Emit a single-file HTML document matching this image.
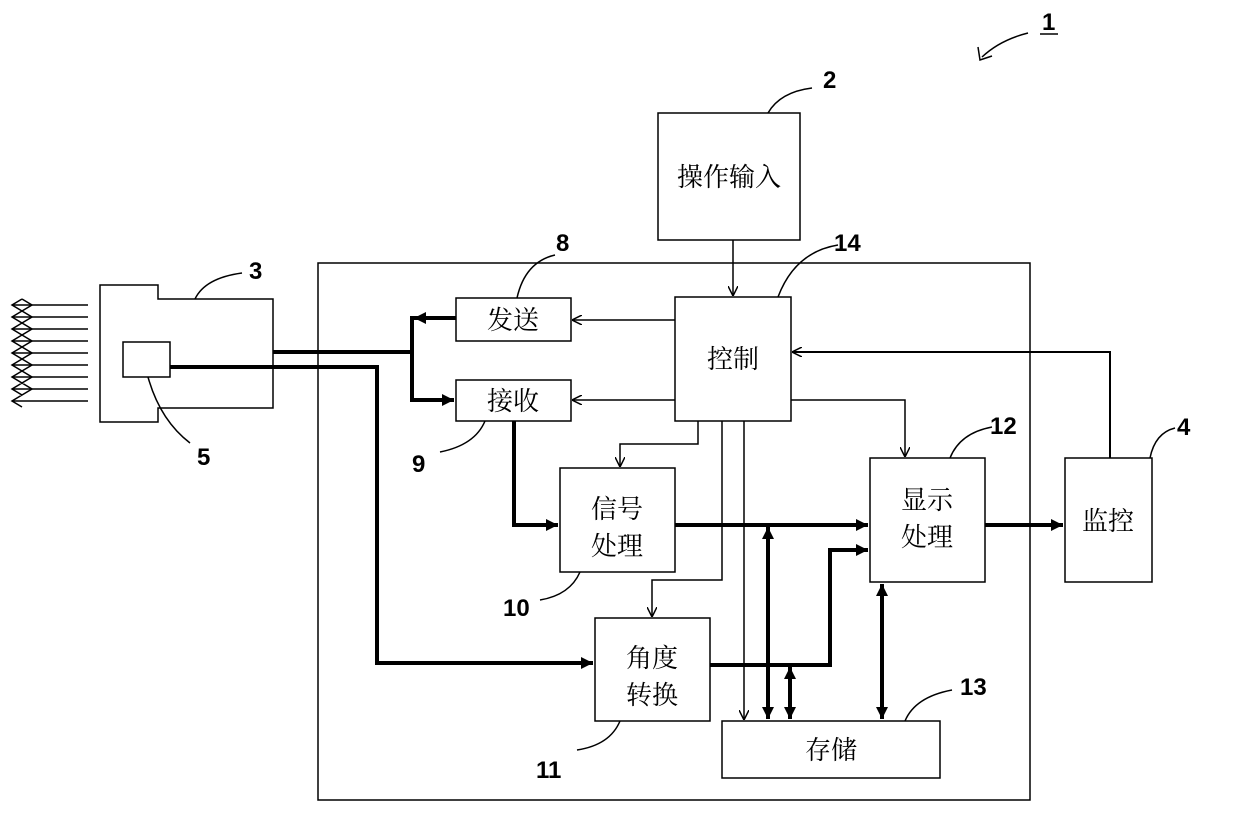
<!DOCTYPE html>
<html><head><meta charset="utf-8"><style>
html,body{margin:0;padding:0;background:#fff;}
svg{display:block}
text{font-family:"Liberation Sans","Noto Sans CJK SC",sans-serif;fill:#000}
.cn{font-family:"Noto Serif CJK SC","Noto Sans CJK SC",serif;font-size:26px}
.n{font-size:24px;font-weight:bold}
</style></head><body>
<svg width="1240" height="816" viewBox="0 0 1240 816" xmlns="http://www.w3.org/2000/svg">
<defs>
<marker id="ao" viewBox="0 0 10 10" refX="10" refY="5" markerWidth="10" markerHeight="10" markerUnits="userSpaceOnUse" orient="auto-start-reverse"><path d="M0,0 L10,5 L0,10" fill="none" stroke="#000" stroke-width="1.5"/></marker>
<marker id="af" viewBox="0 0 10 10" refX="10" refY="5" markerWidth="14" markerHeight="12" markerUnits="userSpaceOnUse" orient="auto-start-reverse"><path d="M0,0 L10,5 L0,10 z" fill="#000"/></marker>
</defs>
<g fill="none" stroke="#000">
<rect x="318" y="263" width="712" height="537" stroke-width="1.5"/>
<rect x="658" y="113" width="142" height="127" stroke-width="1.5"/>
<rect x="456" y="298" width="115" height="43" stroke-width="1.5"/>
<rect x="456" y="380" width="115" height="41" stroke-width="1.5"/>
<rect x="675" y="297" width="116" height="124" stroke-width="1.5"/>
<rect x="560" y="468" width="115" height="104" stroke-width="1.5"/>
<rect x="595" y="618" width="115" height="103" stroke-width="1.5"/>
<rect x="870" y="458" width="115" height="124" stroke-width="1.5"/>
<rect x="722" y="721" width="218" height="57" stroke-width="1.5"/>
<rect x="1065" y="458" width="87" height="124" stroke-width="1.5"/>
<path d="M100,285 H158 V299 H273 V408 H158 V422 H100 Z" stroke-width="1.5"/>
<rect x="123" y="342" width="47" height="35" stroke-width="1.5"/>
<g stroke-width="1.5">
<path d="M12,305H88M12,317H88M12,329H88M12,341H88M12,353H88M12,365H88M12,377H88M12,389H88M12,401H88"/>
<path d="M22,299L12,305L22,311L32,305L22,299M22,311L12,317L22,323L32,317L22,311M22,323L12,329L22,335L32,329L22,323M22,335L12,341L22,347L32,341L22,335M22,347L12,353L22,359L32,353L22,347M22,359L12,365L22,371L32,365L22,359M22,371L12,377L22,383L32,377L22,371M22,383L12,389L22,395L32,389L22,383M22,395L12,401L22,407"/>
</g>
<g stroke-width="4">
<path d="M273,352H410"/>
<path d="M456,318H412V400H454" marker-end="url(#af)"/>
<path d="M456,318H414" marker-end="url(#af)"/>
<path d="M170,367H377V663H593" marker-end="url(#af)"/>
<path d="M514,421V525H558" marker-end="url(#af)"/>
<path d="M675,525H868" marker-end="url(#af)"/>
<path d="M710,665H830V550H868" marker-end="url(#af)"/>
<path d="M985,525H1063" marker-end="url(#af)"/>
<path d="M768,527V719" marker-start="url(#af)" marker-end="url(#af)"/>
<path d="M790,667V719" marker-start="url(#af)" marker-end="url(#af)"/>
<path d="M882,584V719" marker-start="url(#af)" marker-end="url(#af)"/>
</g>
<g stroke-width="1.5">
<path d="M733,240V296" marker-end="url(#ao)"/>
<path d="M675,320H572" marker-end="url(#ao)"/>
<path d="M675,400H572" marker-end="url(#ao)"/>
<path d="M698,421V444H620V467" marker-end="url(#ao)"/>
<path d="M722,421V580H652V617" marker-end="url(#ao)"/>
<path d="M744,421V720" marker-end="url(#ao)"/>
<path d="M791,400H905V457" marker-end="url(#ao)"/>
<path d="M1110,458V352H792" stroke-width="2" marker-end="url(#ao)"/>
</g>
<g stroke-width="1.5">
<path d="M1028,33Q1000,40 982,57"/><path d="M978,47L980,60L992,56"/>
<path d="M768,113Q780,92 812,88"/>
<path d="M778,297Q795,252 838,245"/>
<path d="M517,298Q525,262 555,255"/>
<path d="M195,299Q205,278 242,273"/>
<path d="M148,377Q160,420 190,443"/>
<path d="M485,421Q475,445 440,452"/>
<path d="M950,458Q960,433 992,427"/>
<path d="M1150,458Q1155,433 1175,428"/>
<path d="M580,572Q570,595 540,600"/>
<path d="M620,721Q610,745 577,750"/>
<path d="M905,721Q915,697 952,690"/>
</g>
<path d="M1040,34H1058" stroke-width="1.5"/>
</g>
<text x="1042" y="30" class="n">1</text>
<text x="823" y="88" class="n">2</text>
<text x="249" y="279" class="n">3</text>
<text x="1177" y="435" class="n">4</text>
<text x="197" y="465" class="n">5</text>
<text x="556" y="251" class="n">8</text>
<text x="412" y="472" class="n">9</text>
<text x="503" y="616" class="n">10</text>
<text x="536" y="778" class="n">11</text>
<text x="990" y="434" class="n">12</text>
<text x="960" y="695" class="n">13</text>
<text x="834" y="251" class="n">14</text>
<text x="729" y="186" class="cn" text-anchor="middle">操作输入</text>
<text x="513" y="329" class="cn" text-anchor="middle">发送</text>
<text x="513" y="410" class="cn" text-anchor="middle">接收</text>
<text x="733" y="368" class="cn" text-anchor="middle">控制</text>
<text x="617" y="518" class="cn" text-anchor="middle">信号</text>
<text x="617" y="555" class="cn" text-anchor="middle">处理</text>
<text x="652" y="667" class="cn" text-anchor="middle">角度</text>
<text x="652" y="704" class="cn" text-anchor="middle">转换</text>
<text x="927" y="509" class="cn" text-anchor="middle">显示</text>
<text x="927" y="546" class="cn" text-anchor="middle">处理</text>
<text x="831" y="759" class="cn" text-anchor="middle">存储</text>
<text x="1108" y="530" class="cn" text-anchor="middle">监控</text>
</svg>
</body></html>
